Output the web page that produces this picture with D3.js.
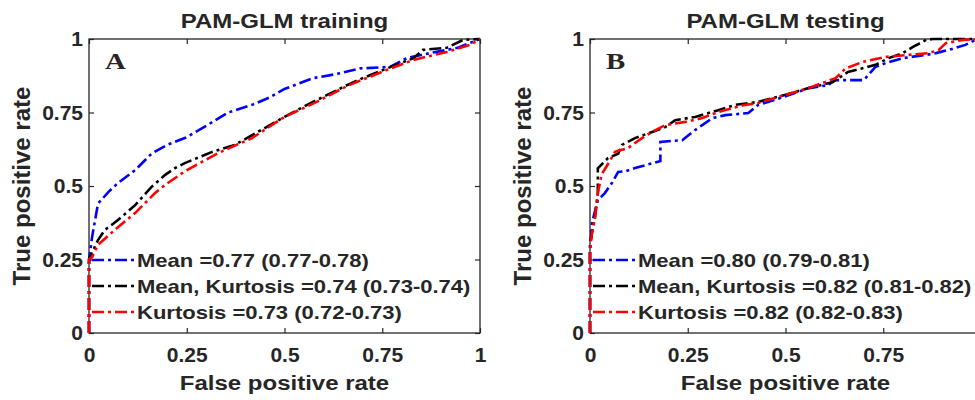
<!DOCTYPE html>
<html>
<head>
<meta charset="utf-8">
<script src="https://cdn.jsdelivr.net/npm/d3@7"></script>
<style>
  body { margin: 0; background: #fff; }
  text { font-family: "Liberation Sans", Arial, sans-serif; font-weight: bold; fill: #262626; }
</style>
</head>
<body>
<div id="chart"></div>
<script>
// ROC curves (false positive rate / true positive rate)
const trainMeanFpr = [0, 0, 0.008, 0.023, 0.05, 0.074, 0.118, 0.16, 0.2, 0.245, 0.3, 0.356, 0.417, 0.46, 0.5, 0.573, 0.63, 0.693, 0.77, 0.813, 0.872, 0.94, 1];
const trainMeanTpr = [0, 0.25, 0.327, 0.44, 0.48, 0.51, 0.554, 0.61, 0.64, 0.663, 0.705, 0.75, 0.776, 0.8, 0.83, 0.867, 0.88, 0.9, 0.905, 0.935, 0.952, 0.969, 1];
const trainMKFpr = [0, 0, 0.003, 0.023, 0.04, 0.074, 0.118, 0.16, 0.194, 0.22, 0.245, 0.315, 0.373, 0.432, 0.5, 0.532, 0.573, 0.66, 0.7, 0.762, 0.83, 0.854, 0.915, 0.957, 1];
const trainMKTpr = [0, 0.24, 0.26, 0.316, 0.35, 0.384, 0.435, 0.497, 0.537, 0.561, 0.578, 0.616, 0.64, 0.684, 0.735, 0.758, 0.786, 0.843, 0.867, 0.9, 0.935, 0.963, 0.97, 0.997, 1];
const trainKFpr = [0, 0, 0.008, 0.023, 0.074, 0.118, 0.169, 0.194, 0.245, 0.33, 0.417, 0.5, 0.573, 0.66, 0.7, 0.762, 0.83, 0.915, 0.974, 1];
const trainKTpr = [0, 0.25, 0.258, 0.3, 0.36, 0.408, 0.476, 0.503, 0.55, 0.612, 0.663, 0.735, 0.78, 0.84, 0.862, 0.895, 0.929, 0.956, 0.98, 1];

const testMeanFpr = [0, 0, 0.005, 0.02, 0.038, 0.056, 0.072, 0.09, 0.115, 0.167, 0.18, 0.18, 0.236, 0.262, 0.287, 0.313, 0.346, 0.405, 0.43, 0.474, 0.559, 0.61, 0.623, 0.7, 0.73, 0.756, 0.8, 0.86, 0.885, 0.918, 0.96, 0.987, 1];
const testMeanTpr = [0, 0.28, 0.374, 0.452, 0.476, 0.51, 0.548, 0.55, 0.561, 0.58, 0.585, 0.65, 0.656, 0.684, 0.707, 0.731, 0.741, 0.748, 0.776, 0.793, 0.833, 0.843, 0.86, 0.86, 0.905, 0.918, 0.935, 0.946, 0.952, 0.963, 0.98, 0.997, 1];
const testMKFpr = [0, 0, 0.005, 0.013, 0.02, 0.02, 0.046, 0.072, 0.082, 0.115, 0.159, 0.192, 0.218, 0.269, 0.328, 0.372, 0.43, 0.5, 0.559, 0.62, 0.66, 0.73, 0.764, 0.8, 0.826, 0.86, 0.877, 1];
const testMKTpr = [0, 0.3, 0.34, 0.395, 0.476, 0.56, 0.595, 0.61, 0.64, 0.663, 0.684, 0.7, 0.724, 0.735, 0.758, 0.776, 0.786, 0.81, 0.833, 0.853, 0.888, 0.912, 0.935, 0.952, 0.973, 0.997, 1, 1];
const testKFpr = [0, 0, 0.005, 0.013, 0.02, 0.03, 0.046, 0.064, 0.072, 0.097, 0.133, 0.159, 0.192, 0.244, 0.287, 0.328, 0.397, 0.43, 0.5, 0.559, 0.628, 0.654, 0.697, 0.756, 0.815, 0.867, 0.892, 0.91, 0.954, 1];
const testKTpr = [0, 0.28, 0.34, 0.395, 0.476, 0.54, 0.575, 0.616, 0.62, 0.629, 0.663, 0.684, 0.707, 0.718, 0.731, 0.752, 0.776, 0.782, 0.81, 0.833, 0.867, 0.9, 0.922, 0.939, 0.946, 0.952, 0.963, 0.986, 0.997, 1];

const trainLabels = ["Mean =0.77 (0.77-0.78)", "Mean, Kurtosis =0.74 (0.73-0.74)", "Kurtosis =0.73 (0.72-0.73)"];
const testLabels = ["Mean =0.80 (0.79-0.81)", "Mean, Kurtosis =0.82 (0.81-0.82)", "Kurtosis =0.82 (0.82-0.83)"];
const tickValues = [0, 0.25, 0.5, 0.75, 1];
const seriesColors = ["#0000ff", "#000000", "#ff0000"];

const zip = (xs, ys) => xs.map((x, i) => [x, ys[i]]);

const panels = [
  {
    title: "PAM-GLM training",
    letter: "A",
    left: 89,
    labels: trainLabels,
    series: [zip(trainMeanFpr, trainMeanTpr), zip(trainMKFpr, trainMKTpr), zip(trainKFpr, trainKTpr)],
  },
  {
    title: "PAM-GLM testing",
    letter: "B",
    left: 590,
    labels: testLabels,
    series: [zip(testMeanFpr, testMeanTpr), zip(testMKFpr, testMKTpr), zip(testKFpr, testKTpr)],
  },
];

const size = { width: 975, height: 400 };
const plotW = 391;
const plotTop = 39;
const plotBottom = 333;
const dash = "12,4,3,4";
const lineW = 2.6;

// text in the figure is a bit wider than the font's natural width
const stretch = (sel, k) =>
  sel.each(function () {
    const w = this.getComputedTextLength();
    d3.select(this).attr("textLength", w * k).attr("lengthAdjust", "spacingAndGlyphs");
  });

const svg = d3
  .select("#chart")
  .append("svg")
  .attr("width", size.width)
  .attr("height", size.height);

const drawPanel = (p) => {
  const x = d3.scaleLinear().domain([0, 1]).range([p.left, p.left + plotW]);
  const y = d3.scaleLinear().domain([0, 1]).range([plotBottom, plotTop]);
  const g = svg.append("g");

  const fmt = (d) => String(d);

  g.append("g")
    .attr("transform", `translate(0,${plotBottom})`)
    .call(d3.axisBottom(x).tickValues(tickValues).tickFormat(fmt).tickSizeInner(-5).tickSizeOuter(0).tickPadding(14));
  g.append("g")
    .attr("transform", `translate(${p.left},0)`)
    .call(d3.axisLeft(y).tickValues(tickValues).tickFormat(fmt).tickSizeInner(-5).tickSizeOuter(0).tickPadding(6));
  g.append("g")
    .attr("transform", `translate(0,${plotTop})`)
    .call(d3.axisTop(x).tickValues(tickValues).tickFormat("").tickSizeInner(-5).tickSizeOuter(0));
  g.append("g")
    .attr("transform", `translate(${p.left + plotW},0)`)
    .call(d3.axisRight(y).tickValues(tickValues).tickFormat("").tickSizeInner(-5).tickSizeOuter(0));

  g.selectAll(".domain").remove();
  g.selectAll(".tick line").attr("stroke", "#262626").attr("stroke-width", 1.2);
  g.selectAll(".tick text")
    .style("font-size", "21px")
    .style("font-family", "'Liberation Sans', Arial, sans-serif")
    .style("font-weight", "bold")
    .attr("fill", "#262626");

  g.append("rect")
    .attr("x", p.left)
    .attr("y", plotTop)
    .attr("width", plotW)
    .attr("height", plotBottom - plotTop)
    .attr("fill", "none")
    .attr("stroke", "#262626")
    .attr("stroke-width", 1.3);

  const line = d3
    .line()
    .x((d) => x(d[0]))
    .y((d) => y(d[1]));

  g.selectAll(".roc")
    .data(p.series)
    .join("path")
    .attr("class", "roc")
    .attr("d", line)
    .attr("fill", "none")
    .attr("stroke", (d, i) => seriesColors[i])
    .attr("stroke-width", lineW)
    .attr("stroke-dasharray", dash);

  // legend, no box
  const rows = [260, 286, 312];
  const legend = g.selectAll(".leg").data(p.labels).join("g").attr("class", "leg");
  legend
    .append("line")
    .attr("x1", p.left + 3)
    .attr("x2", p.left + 46)
    .attr("y1", (d, i) => rows[i])
    .attr("y2", (d, i) => rows[i])
    .attr("stroke", (d, i) => seriesColors[i])
    .attr("stroke-width", lineW)
    .attr("stroke-dasharray", dash);
  legend
    .append("text")
    .attr("x", p.left + 48)
    .attr("y", (d, i) => rows[i] + 7)
    .style("font-size", "18.5px")
    .text((d) => d)
    .call(stretch, 1.19);

  g.append("text")
    .attr("x", p.left + 16)
    .attr("y", 69)
    .style("font-family", "'Liberation Serif', 'Times New Roman', serif")
    .style("font-size", "24px")
    .attr("fill", "#000")
    .text(p.letter)
    .call(stretch, 1.2);

  const cx = p.left + plotW / 2;
  g.append("text")
    .attr("x", cx)
    .attr("y", 28)
    .attr("text-anchor", "middle")
    .style("font-size", "20px")
    .attr("fill", "#000")
    .text(p.title)
    .call(stretch, 1.2);

  g.append("text")
    .attr("x", cx)
    .attr("y", 390)
    .attr("text-anchor", "middle")
    .style("font-size", "20px")
    .text("False positive rate")
    .call(stretch, 1.2);

  g.append("text")
    .attr("transform", `translate(${p.left - 59},${(plotTop + plotBottom) / 2}) rotate(-90)`)
    .attr("text-anchor", "middle")
    .style("font-size", "24px")
    .text("True positive rate");
};

panels.forEach(drawPanel);
</script>
</body>
</html>
